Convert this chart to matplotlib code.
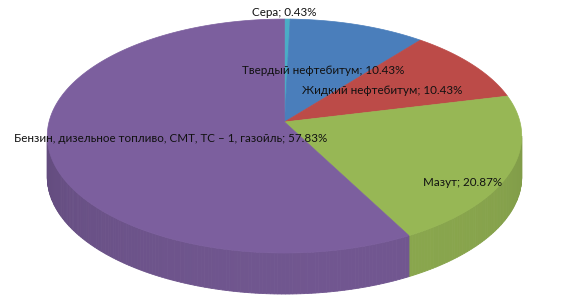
import numpy as np
import matplotlib
matplotlib.use("Agg")
import matplotlib.pyplot as plt
from matplotlib.patches import Polygon
import matplotlib.colors as mcolors

categories = ["Сера", "Твердый нефтебитум", "Жидкий нефтебитум", "Мазут",
              "Бензин, дизельное топливо, СМТ, ТС – 1, газойль"]
values = [0.43, 10.43, 10.43, 20.87, 57.83]
colors = ["#4BACC6", "#4A7EBB", "#BC4B48", "#97B755", "#7C5F9E"]

plt.rcParams['font.family'] = ['Lato', 'DejaVu Sans']

W, H = 570, 303
fig = plt.figure(figsize=(W / 100, H / 100), dpi=100)
ax = fig.add_axes([0, 0, 1, 1])
ax.set_xlim(0, W)
ax.set_ylim(H, 0)
ax.axis('off')

# perspective-projected disc
cx, cy, sx, sy, k, depth = 284.5, 122, 235.5, 115.3, 0.12, 41

def pt(t):
    r = np.radians(t)
    X, Z = np.sin(r), np.cos(r)
    d = 1 + k * Z
    return cx + sx * X / d, cy - sy * Z / d

total = sum(values)
starts = np.concatenate([[0], np.cumsum(values)[:-1]]) / total * 360
ends = np.cumsum(values) / total * 360

# silhouette angles of the side
t_right = np.degrees(np.arccos(-k))
t_left = 360 - t_right

for s, e, c in zip(starts, ends, colors):
    lo, hi = max(s, t_right), min(e, t_left)
    if hi <= lo:
        continue
    base = np.array(mcolors.to_rgb(c))
    ts = np.linspace(lo, hi, max(2, int((hi - lo) / 0.8) + 1))
    for t0, t1 in zip(ts[:-1], ts[1:]):
        tm = 0.5 * (t0 + t1)
        f = 0.81 + 0.10 * np.cos(np.radians(tm - 165))
        col = np.clip(base * f, 0, 1)
        x0, y0 = pt(t0)
        x1, y1 = pt(t1)
        poly = [(x0, y0), (x1, y1), (x1, y1 + depth), (x0, y0 + depth)]
        ax.add_patch(Polygon(poly, closed=True, facecolor=col, edgecolor=col, lw=0.6))

for s, e, c in zip(starts, ends, colors):
    ts = np.linspace(s, e, max(2, int(e - s) * 2 + 2))
    xs, ys = pt(ts)
    poly = [(cx, cy)] + list(zip(xs, ys))
    ax.add_patch(Polygon(poly, closed=True, facecolor=c, edgecolor=c, lw=0.5))

label_pos = [(284, 12), (323, 70), (382, 90), (463, 182), (171, 138)]
for cat, v, (lx, ly) in zip(categories, values, label_pos):
    ax.text(lx, ly, f"{cat}; {v:.2f}%", ha='center', va='center',
            fontsize=8.4, color='#111111')

fig.savefig("out.png", dpi=100)
